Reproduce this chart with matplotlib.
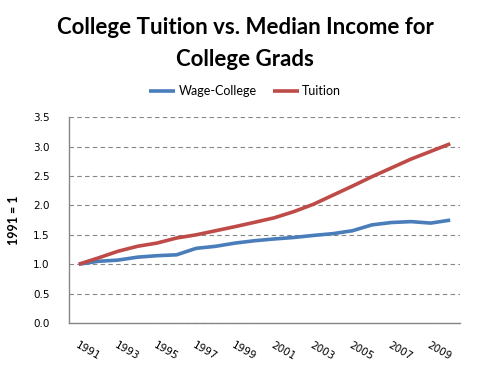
import matplotlib
matplotlib.use("Agg")
import matplotlib.pyplot as plt
import numpy as np

years = list(range(1991, 2011))
wage_college = [1.00, 1.05, 1.07, 1.12, 1.145, 1.16, 1.27, 1.305, 1.36, 1.40,
                1.43, 1.455, 1.49, 1.52, 1.57, 1.67, 1.71, 1.725, 1.70, 1.75]
tuition = [1.00, 1.107, 1.22, 1.305, 1.36, 1.446, 1.50, 1.57, 1.64, 1.714,
           1.79, 1.895, 2.02, 2.175, 2.33, 2.49, 2.64, 2.79, 2.92, 3.05]
yticks = [0.0, 0.5, 1.0, 1.5, 2.0, 2.5, 3.0, 3.5]

BLUE = "#4a7ebb"
RED = "#be4b48"

fig = plt.figure(figsize=(4.9, 3.7), dpi=100)
ax = fig.add_axes([69 / 490, 1 - 323 / 370, (460 - 69) / 490, (323 - 117.3) / 370])

x = np.arange(len(years))
ax.plot(x, wage_college, color=BLUE, lw=2.6, solid_capstyle="butt", label="Wage-College")
ax.plot(x, tuition, color=RED, lw=2.6, solid_capstyle="butt", label="Tuition")

ax.set_xlim(-0.5, len(years) - 0.5)
ax.set_ylim(0, 3.5)
ax.set_yticks(yticks)
ax.set_yticklabels([f"{v:.1f}" for v in yticks], fontsize=7.5, family="DejaVu Sans")
ax.yaxis.grid(True, color="#868686", ls=(0, (4, 3)), lw=0.8)
ax.set_axisbelow(True)

ax.set_xticks(x[::2])
ax.set_xticklabels([str(y) for y in years[::2]], fontsize=7.5, family="DejaVu Sans",
                   rotation=-30, rotation_mode="anchor", ha="left", va="top")
ax.tick_params(axis="both", length=0)
ax.tick_params(axis="x", pad=12)
ax.tick_params(axis="y", pad=14)

for s in ["top", "right"]:
    ax.spines[s].set_visible(False)
for s in ["left", "bottom"]:
    ax.spines[s].set_color("#868686")
    ax.spines[s].set_linewidth(1.0)

ax.set_ylabel("1991 = 1", fontsize=9, fontweight="bold", family="Lato", labelpad=9)

fig.text(0.5, 1 - 28 / 370, "College Tuition vs. Median Income for", ha="center", va="center",
         fontsize=16, fontweight="bold", family="Lato")
fig.text(0.5, 1 - 59 / 370, "College Grads", ha="center", va="center",
         fontsize=16, fontweight="bold", family="Lato")

leg = fig.legend(loc="center", bbox_to_anchor=(0.5, 1 - 91 / 370), ncol=2, frameon=False,
                 prop={"family": "Lato", "size": 9}, handlelength=2.1, handletextpad=0.25,
                 columnspacing=1.3)

fig.savefig("out.png", dpi=100)
